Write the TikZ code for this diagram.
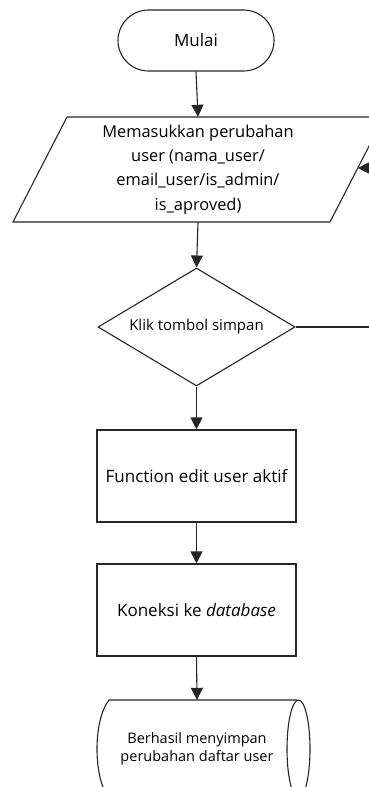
\documentclass[tikz,border=0pt]{standalone}
\usepackage{fontspec}
\setmainfont{Open Sans}
\usetikzlibrary{shapes.geometric,shapes.misc,arrows.meta}
\begin{document}
\begin{tikzpicture}[x=1pt,y=-1pt,
  line/.style={draw=black!85,line width=1.1pt},
  arr/.style={line,-{Triangle[width=12pt,length=12pt]}},
  box/.style={line,rectangle,minimum width=199pt,minimum height=92pt,inner sep=0pt,align=center},
  txt/.style={inner sep=0pt,align=center}]
\useasboundingbox (0,0) rectangle (369,787);
\clip (0,0) rectangle (369,787);
\fill[white] (0,0) rectangle (369,787);
% start
\node[line,rounded rectangle,minimum width=156pt,minimum height=61pt,inner sep=0pt,
  font=\fontsize{17}{20}\selectfont] (start) at (196,40.5) {Mulai};
% input parallelogram
\draw[line] (13,222) -- (330,222) -- (384,117) -- (67,117) -- cycle;
\node[txt,minimum width=250pt,minimum height=105pt,
  font=\fontsize{16.4}{24.3}\selectfont] (in) at (198,169.5) {Memasukkan perubahan\\user (nama\_user/\\email\_user/is\_admin/\\is\_aproved)};
\coordinate (inR) at (357.8,168);
% decision
\node[line,diamond,aspect=1.67,minimum width=197pt,minimum height=118pt,inner sep=0pt,
  font=\fontsize{15}{18}\selectfont] (dec) at (196.5,327) {Klik tombol simpan};
\coordinate (loop) at (380,327);
% process
\node[box,font=\fontsize{17}{20}\selectfont] (func) at (196.5,476) {Function edit user aktif};
\node[box,font=\fontsize{17}{20}\selectfont] (db) at (196.5,610) {Koneksi ke \textit{database}};
% stored data
\draw[line] (297,700) -- (109,700) .. controls (93,720) and (93,778) .. (109,798) -- (297,798);
\draw[line] (298.5,749) ellipse [x radius=11.5, y radius=49];
\node[txt,minimum width=170pt,minimum height=98pt,
  font=\fontsize{14.5}{18}\selectfont] (out) at (197,749) {Berhasil menyimpan\\perubahan daftar user};
% connectors
\draw[arr] (start.south) -- (in.north);
\draw[arr] (in.south) -- (dec.north);
\draw[line] (dec.east) -- (loop);
\draw[arr] (loop) |- (inR);
\draw[arr] (dec.south) -- (func.north);
\draw[arr] (func.south) -- (db.north);
\draw[arr] (db.south) -- (out.north);
\end{tikzpicture}
\end{document}
